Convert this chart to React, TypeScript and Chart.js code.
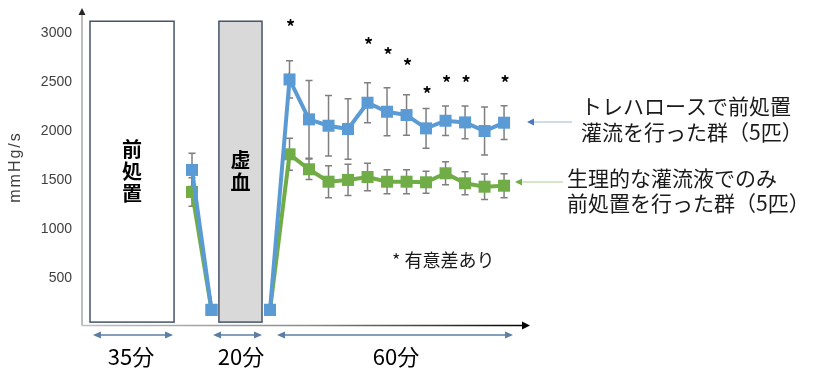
import React, { useEffect, useRef } from "react";
import { Chart, registerables } from "chart.js";

Chart.register(...registerables);

// ---- data ----
const sampleIndex = [0, 1, 4, 5, 6, 7, 8, 9, 10, 11, 12, 13, 14, 15, 16];
const trehaloseValues = [1605, 175, 175, 2530, 2122, 2057, 2023, 2292, 2200, 2166, 2030, 2108, 2091, 2003, 2088];
const trehaloseErrors = [170, 0, 0, 190, 398, 310, 309, 204, 245, 207, 204, 150, 167, 245, 173];
const salineValues = [1380, 175, 175, 1765, 1612, 1485, 1503, 1533, 1485, 1485, 1479, 1571, 1469, 1434, 1444];
const salineErrors = [145, 0, 0, 163, 105, 163, 160, 140, 123, 123, 112, 118, 118, 130, 123];
const significantIndex = [5, 9, 10, 11, 12, 13, 14, 16];
const significantMarkY = [3105, 2924, 2816, 2707, 2421, 2530, 2530, 2530];
const yTickValues = [500, 1000, 1500, 2000, 2500, 3000];
const phaseBoxLabels = ["前処置", "虚血"];
const phaseDurationLabels = ["35分", "20分", "60分"];
const trehaloseLabel = ["トレハロースで前処置", "灌流を行った群（5匹）"];
const salineLabel = ["生理的な灌流液でのみ", "前処置を行った群（5匹）"];
const noteLabel = "* 有意差あり";
const yAxisTitle = "mmHg/s";

// ---- layout (x in sample-index units) ----
const BOXES = [
  { from: -5.23, to: -0.92, fill: "#ffffff" },
  { from: 1.38, to: 3.59, fill: "#d9d9d9" },
];
const BOX_Y = [50, 3125];
const SPANS = [
  { from: -5.08, to: -0.97, labelX: -3.13 },
  { from: 1.08, to: 3.59, labelX: 2.51 },
  { from: 4.36, to: 16.46, labelX: 10.46 },
];

const BLUE = "#5b9bd5";
const GREEN = "#70ad47";
const JP = '"Noto Sans CJK JP", "Noto Sans", sans-serif';

function head(ctx: CanvasRenderingContext2D, x: number, y: number, ang: number, len: number, half: number) {
  ctx.save();
  ctx.translate(x, y);
  ctx.rotate(ang);
  ctx.beginPath();
  ctx.moveTo(0, 0);
  ctx.lineTo(-len, -half);
  ctx.lineTo(-len, half);
  ctx.closePath();
  ctx.fill();
  ctx.restore();
}

const decorPlugin = {
  id: "decor",
  beforeDatasetsDraw(chart: any) {
    const ctx: CanvasRenderingContext2D = chart.ctx;
    const xs = chart.scales.x;
    const ys = chart.scales.y;
    // phase boxes
    ctx.save();
    BOXES.forEach((b) => {
      const x0 = xs.getPixelForValue(b.from);
      const x1 = xs.getPixelForValue(b.to);
      const y0 = ys.getPixelForValue(BOX_Y[1]);
      const y1 = ys.getPixelForValue(BOX_Y[0]);
      ctx.fillStyle = b.fill;
      ctx.fillRect(x0, y0, x1 - x0, y1 - y0);
      ctx.strokeStyle = "#44546a";
      ctx.lineWidth = 1.5;
      ctx.strokeRect(x0, y0, x1 - x0, y1 - y0);
    });
    ctx.fillStyle = "#000";
    ctx.font = `bold 20px ${JP}`;
    ctx.textAlign = "center";
    ctx.textBaseline = "middle";
    phaseBoxLabels.forEach((lab, i) => {
      const b = BOXES[i];
      const cx = (xs.getPixelForValue(b.from) + xs.getPixelForValue(b.to)) / 2;
      const cy = (ys.getPixelForValue(BOX_Y[0]) + ys.getPixelForValue(BOX_Y[1])) / 2;
      const chars = Array.from(lab);
      const step = 22;
      chars.forEach((c, k) => {
        ctx.fillText(c, cx, cy + (k - (chars.length - 1) / 2) * step);
      });
    });
    // error bars
    ctx.strokeStyle = "#7f7f7f";
    ctx.lineWidth = 1.5;
    const drawErr = (vals: number[], errs: number[]) => {
      vals.forEach((v, i) => {
        const e = errs[i];
        if (!e) return;
        const x = xs.getPixelForValue(sampleIndex[i]);
        const yt = ys.getPixelForValue(v + e);
        const yb = ys.getPixelForValue(v - e);
        ctx.beginPath();
        ctx.moveTo(x, yt);
        ctx.lineTo(x, yb);
        ctx.moveTo(x - 3.5, yt);
        ctx.lineTo(x + 3.5, yt);
        ctx.moveTo(x - 3.5, yb);
        ctx.lineTo(x + 3.5, yb);
        ctx.stroke();
      });
    };
    drawErr(salineValues, salineErrors);
    drawErr(trehaloseValues, trehaloseErrors);
    ctx.restore();
  },
  afterDatasetsDraw(chart: any) {
    const ctx: CanvasRenderingContext2D = chart.ctx;
    const xs = chart.scales.x;
    const ys = chart.scales.y;
    const area = chart.chartArea;
    ctx.save();
    // y axis
    const ax = area.left;
    const ay = area.bottom - 1.5;
    ctx.strokeStyle = "#a6a6a6";
    ctx.lineWidth = 1.5;
    ctx.beginPath();
    ctx.moveTo(ax, ay);
    ctx.lineTo(ax, area.top + 4);
    ctx.stroke();
    ctx.fillStyle = "#262626";
    head(ctx, ax, area.top - 1, -Math.PI / 2, 7, 3.5);
    // x axis
    const g = ctx.createLinearGradient(ax, 0, area.right, 0);
    g.addColorStop(0, "#bfbfbf");
    g.addColorStop(0.5, "#8c8c8c");
    g.addColorStop(1, "#000000");
    ctx.strokeStyle = g;
    ctx.beginPath();
    ctx.moveTo(ax, ay);
    ctx.lineTo(area.right - 5, ay);
    ctx.stroke();
    ctx.fillStyle = "#000";
    head(ctx, area.right, ay, 0, 8, 4);

    // significance marks
    ctx.fillStyle = "#000";
    ctx.font = `bold 18px ${JP}`;
    ctx.textAlign = "center";
    ctx.textBaseline = "middle";
    significantIndex.forEach((ix, i) => {
      ctx.fillText("*", xs.getPixelForValue(ix) + 1, ys.getPixelForValue(significantMarkY[i]) + 4);
    });

    // duration arrows
    const sy = 335;
    ctx.strokeStyle = "#5b7ea6";
    ctx.fillStyle = "#5b7ea6";
    ctx.lineWidth = 1.5;
    SPANS.forEach((s) => {
      const x0 = xs.getPixelForValue(s.from);
      const x1 = xs.getPixelForValue(s.to);
      ctx.beginPath();
      ctx.moveTo(x0 + 4, sy);
      ctx.lineTo(x1 - 4, sy);
      ctx.stroke();
      head(ctx, x0, sy, Math.PI, 8, 3.5);
      head(ctx, x1, sy, 0, 8, 3.5);
    });
    ctx.fillStyle = "#000";
    ctx.font = `22px ${JP}`;
    ctx.textAlign = "center";
    ctx.textBaseline = "middle";
    phaseDurationLabels.forEach((lab, i) => {
      ctx.fillText(lab, xs.getPixelForValue(SPANS[i].labelX), 357);
    });

    // series labels with arrows
    ctx.lineWidth = 1;
    ctx.strokeStyle = "#9fb6d0";
    ctx.beginPath();
    ctx.moveTo(532, 122);
    ctx.lineTo(572, 122);
    ctx.stroke();
    ctx.fillStyle = "#4a78c0";
    head(ctx, 527, 122, Math.PI, 7, 3.5);
    ctx.strokeStyle = "#a9d08e";
    ctx.beginPath();
    ctx.moveTo(520, 182);
    ctx.lineTo(563, 182);
    ctx.stroke();
    ctx.fillStyle = GREEN;
    head(ctx, 515, 182, Math.PI, 7, 3.5);

    ctx.fillStyle = "#1a1a1a";
    ctx.font = `21px ${JP}`;
    ctx.textAlign = "left";
    ctx.textBaseline = "middle";
    ctx.fillText(trehaloseLabel[0], 581, 106);
    ctx.fillText(trehaloseLabel[1], 581, 132);
    ctx.fillText(salineLabel[0], 567, 178);
    ctx.fillText(salineLabel[1], 567, 203);

    ctx.font = `18px ${JP}`;
    ctx.fillText(noteLabel, 392, 260);

    // y title
    ctx.translate(16, 167);
    ctx.rotate(-Math.PI / 2);
    ctx.font = '16px "Liberation Sans", Arial, sans-serif';
    (ctx as any).letterSpacing = "2px";
    ctx.fillStyle = "#404040";
    ctx.textAlign = "center";
    ctx.fillText(yAxisTitle, 0, 0);
    ctx.restore();
  },
};

export default function App() {
  const ref = useRef<HTMLCanvasElement | null>(null);
  useEffect(() => {
    if (!ref.current) return;
    const mk = (vals: number[]) => vals.map((v, i) => ({ x: sampleIndex[i], y: v }));
    const hideGap = (c: any) => (c.p1.parsed.x - c.p0.parsed.x > 2 ? "rgba(0,0,0,0)" : undefined);
    const chart = new Chart(ref.current, {
      type: "line",
      data: {
        datasets: [
          {
            label: trehaloseLabel.join(""),
            data: mk(trehaloseValues),
            borderColor: BLUE,
            backgroundColor: BLUE,
            borderWidth: 4,
            pointStyle: "rect",
            pointRadius: 8.5,
            pointBorderWidth: 0,
            pointBackgroundColor: BLUE,
            segment: { borderColor: hideGap },
          } as any,
          {
            label: salineLabel.join(""),
            data: mk(salineValues),
            borderColor: GREEN,
            backgroundColor: GREEN,
            borderWidth: 4,
            pointStyle: "rect",
            pointRadius: 8.5,
            pointBorderWidth: 0,
            pointBackgroundColor: GREEN,
            segment: { borderColor: hideGap },
          } as any,
        ],
      },
      options: {
        responsive: false,
        animation: false,
        layout: { padding: { top: 9, bottom: 58, right: 298, left: 0 } },
        plugins: { legend: { display: false }, tooltip: { enabled: false } },
        scales: {
          x: { type: "linear", min: -5.64, max: 17.33, display: false },
          y: {
            min: 0,
            max: 3250,
            afterFit: (s: any) => {
              s.width = 82;
              s.paddingTop = 0;
              s.paddingBottom = 0;
            },
            afterBuildTicks: (s: any) => {
              s.ticks = yTickValues.map((v) => ({ value: v }));
            },
            grid: { display: false, drawTicks: false },
            border: { display: false },
            ticks: {
              padding: 10,
              color: "#404040",
              font: { family: '"Liberation Sans", Arial, sans-serif', size: 14 },
              callback: (v: any) => String(v),
            },
          },
        },
      },
      plugins: [decorPlugin],
    });
    return () => chart.destroy();
  }, []);
  return (
    <div style={{ position: "fixed", left: 0, top: 0, width: 828, height: 385, background: "#fff" }}>
      <canvas ref={ref} width={828} height={385} style={{ display: "block" }} />
    </div>
  );
}
